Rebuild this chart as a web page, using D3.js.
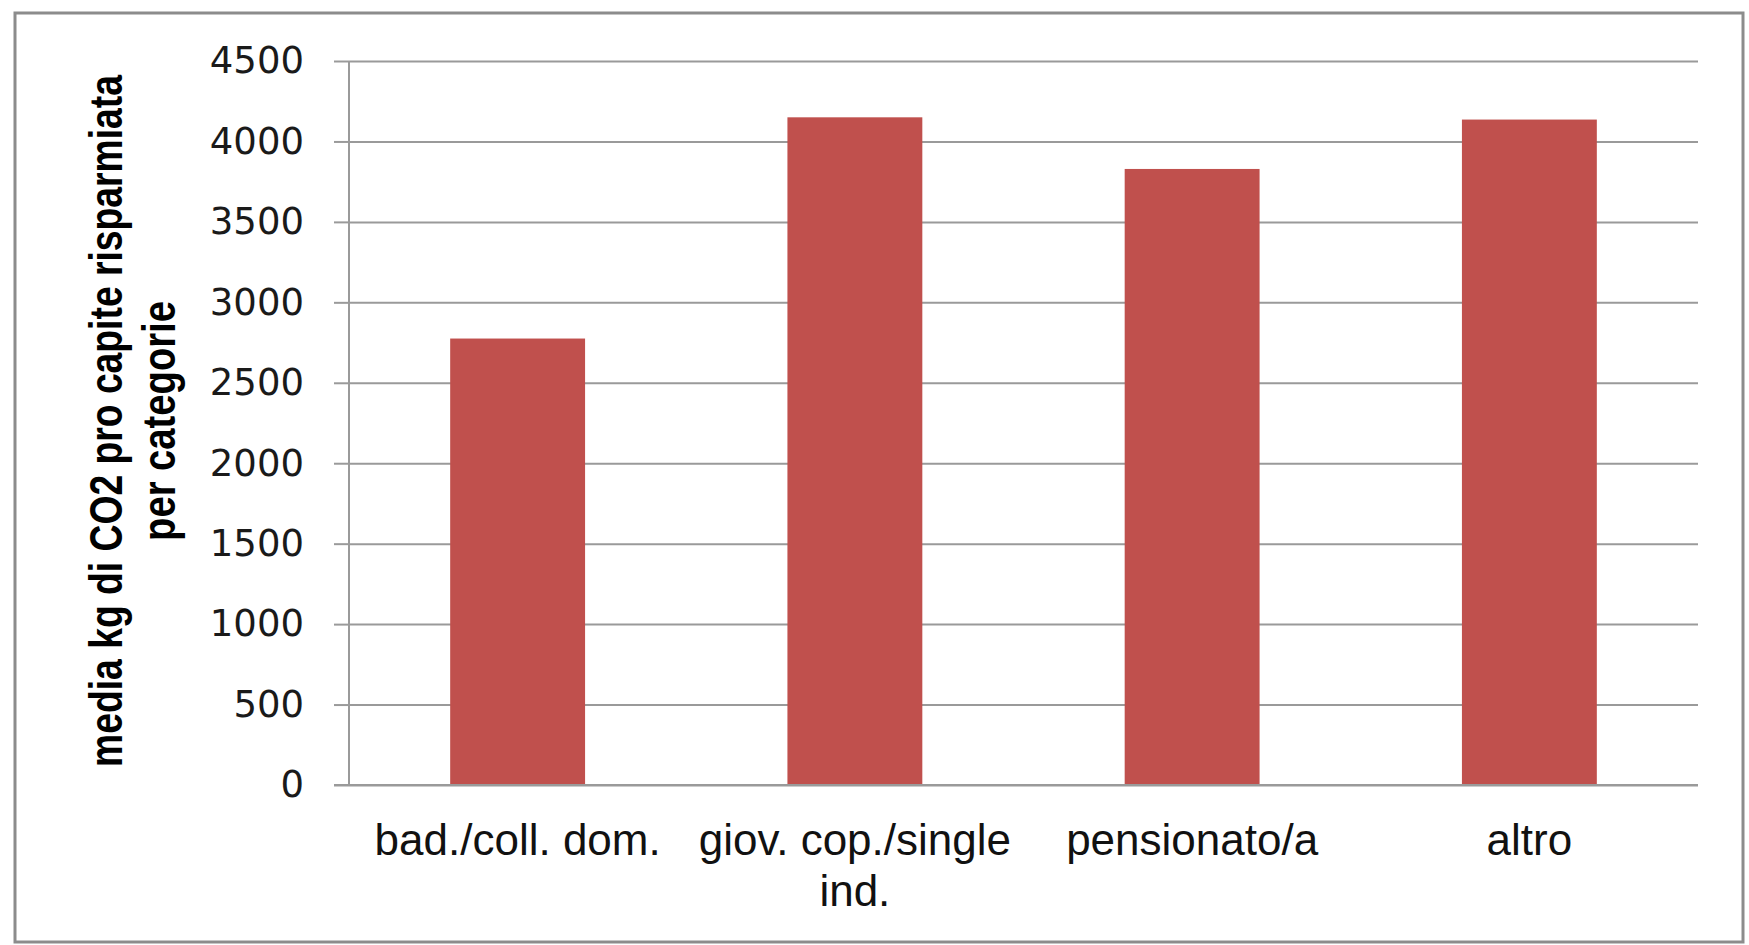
<!DOCTYPE html>
<html>
<head>
<meta charset="utf-8">
<script src="https://cdn.jsdelivr.net/npm/d3@7"></script>
<style>
  body { margin: 0; background: #fff; }
</style>
</head>
<body>
<div id="chart"></div>
<script>
const categories = ["bad./coll. dom.", "giov. cop./single ind.", "pensionato/a", "altro"];
const values = [2775, 4150, 3829, 4136];
const yTicks = [0, 500, 1000, 1500, 2000, 2500, 3000, 3500, 4000, 4500];
const yTitle = ["media kg di CO2 pro capite risparmiata", "per categorie"];

const W = 1749, H = 945;
const plot = {left: 349, right: 1698, top: 61, bottom: 785};

const svg = d3.select("#chart")
  .append("svg")
  .attr("width", W)
  .attr("height", H);

svg.append("rect")
  .attr("width", W).attr("height", H)
  .attr("fill", "#fff");

// outer frame
svg.append("rect")
  .attr("x", 15).attr("y", 13)
  .attr("width", 1728).attr("height", 929)
  .attr("fill", "none")
  .attr("stroke", "#8c8c8c")
  .attr("stroke-width", 3);

const x = d3.scaleBand()
  .domain(categories)
  .range([plot.left, plot.right])
  .paddingInner(0.6)
  .paddingOuter(0.3);

const y = d3.scaleLinear([0, 4500], [plot.bottom, plot.top]);

// gridlines + left ticks
const yAxis = svg.append("g")
  .attr("transform", `translate(${plot.left},0)`)
  .call(d3.axisLeft(y).tickValues(yTicks).tickFormat(d3.format("d"))
    .tickSize(15).tickPadding(30).tickSizeOuter(0));
yAxis.select(".domain").remove();
yAxis.selectAll(".tick line").attr("stroke", "#9a9a9a").attr("stroke-width", 2);
yAxis.selectAll(".tick")
  .append("line")
  .attr("x1", 0).attr("x2", plot.right - plot.left)
  .attr("stroke", "#9a9a9a").attr("stroke-width", 2);
yAxis.selectAll(".tick text")
  .attr("fill", "#1a1a1a")
  .style("font-family", "'DejaVu Sans', sans-serif")
  .style("font-size", "37px");

// vertical axis line
svg.append("line")
  .attr("x1", plot.left).attr("x2", plot.left)
  .attr("y1", plot.top).attr("y2", plot.bottom)
  .attr("stroke", "#9a9a9a").attr("stroke-width", 2);

// bars
svg.append("g")
  .selectAll("rect")
  .data(values)
  .join("rect")
    .attr("x", (d, i) => x(categories[i]))
    .attr("y", d => y(d))
    .attr("width", x.bandwidth())
    .attr("height", d => y(0) - y(d))
    .attr("fill", "#c0504d");

// category labels, wrapped to the band step
const xAxis = svg.append("g")
  .attr("transform", `translate(0,${plot.bottom})`)
  .call(d3.axisBottom(x).tickSize(0).tickPadding(0));
xAxis.select(".domain").remove();
xAxis.selectAll(".tick text")
  .attr("fill", "#111")
  .style("font-family", "'Liberation Sans', Arial, sans-serif")
  .style("font-size", "44px")
  .attr("y", 70)
  .attr("dy", 0)
  .each(function() {
    const text = d3.select(this);
    const words = text.text().split(" ");
    text.text(null);
    let line = [];
    let lineNo = 0;
    let tspan = text.append("tspan").attr("x", 0).attr("y", 70);
    for (const w of words) {
      line.push(w);
      tspan.text(line.join(" "));
      if (tspan.node().getComputedTextLength() > x.step() && line.length > 1) {
        line.pop();
        tspan.text(line.join(" "));
        line = [w];
        lineNo++;
        tspan = text.append("tspan").attr("x", 0).attr("y", 70 + lineNo * 51).text(w);
      }
    }
  });

// y title (two rotated lines, squeezed horizontally to fit the measured length)
const titleX = [122, 175];
const titleLen = [692, 240];
yTitle.forEach((t, i) => {
  const txt = svg.append("text")
    .attr("text-anchor", "middle")
    .style("font-family", "'Liberation Sans', Arial, sans-serif")
    .style("font-weight", "bold")
    .style("font-size", "46px")
    .attr("fill", "#000")
    .text(t);
  const sx = titleLen[i] / txt.node().getComputedTextLength();
  txt.attr("transform", `translate(${titleX[i]},421) rotate(-90) scale(${sx},1)`);
});

// x baseline extends past the axis like the 0 tick
svg.append("line")
  .attr("x1", plot.left - 15).attr("x2", plot.right)
  .attr("y1", plot.bottom).attr("y2", plot.bottom)
  .attr("stroke", "#9a9a9a").attr("stroke-width", 2);
</script>
</body>
</html>
